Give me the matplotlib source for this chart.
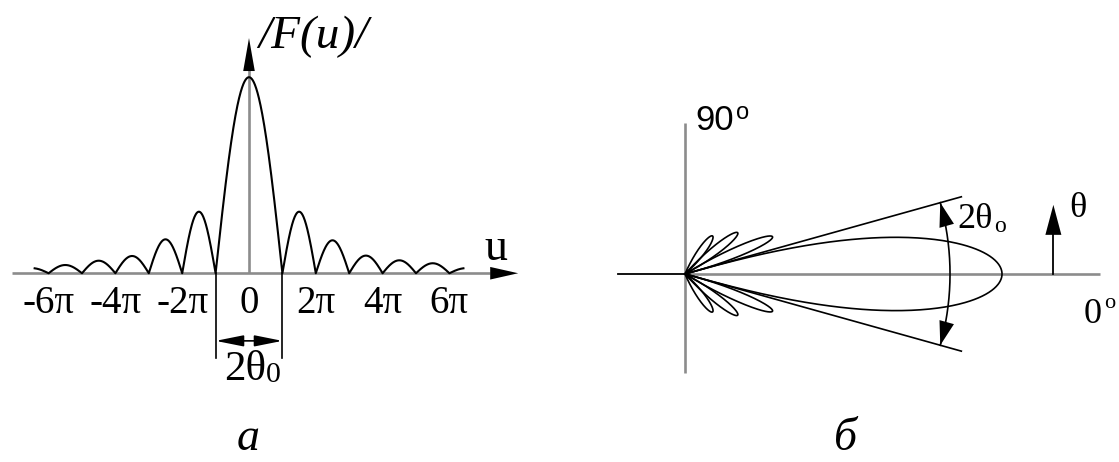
import numpy as np
import matplotlib
matplotlib.use("Agg")
import matplotlib.pyplot as plt

# ---------------- panel (a): |F(u)| ----------------
# zeros of |F(u)| are at multiples of pi; u is measured in units of pi
main_peak = 1.0
side_peaks_right = [0.314, 0.168, 0.090, 0.066, 0.051]
side_peaks_left = [0.314, 0.173, 0.088, 0.064, 0.042]
tail_peak = 0.026          # partial lobe beyond +-6pi
tail_end = 6.42            # where the drawn curve stops (units of pi)
tick_positions = [-6, -4, -2, 0, 2, 4, 6]
tick_labels = ["-6π", "-4π", "-2π", "0", "2π", "4π", "6π"]

# ---------------- panel (б): polar pattern ----------------
main_lobe_length = 1.0
main_lobe_null_deg = 15.6          # half-width of main beam, theta_0
side_lobe_angles_deg = [23.0, 38.0, 54.0]
side_lobe_lengths = [0.300, 0.211, 0.148]
side_lobe_halfwidths_deg = [8.2, 10.0, 12.5]
beam_line_length = 0.905
arc_radius = 0.836

AX_GRAY = "#8c8c8c"
SERIF = "Liberation Serif"
SANS = "Liberation Sans"

fig = plt.figure(figsize=(11.19, 4.62), dpi=100)
fig.patch.set_facecolor("white")

# ---------- left panel ----------
ax1 = fig.add_axes([0, 0, 520 / 1119, 1])
ax1.set_xlim(-7.455, 8.114)
ax1.set_ylim(-0.963, 1.394)
ax1.axis("off")
px_x = 520 / (8.114 + 7.455)      # pixels per unit u
px_y = 462 / (1.394 + 0.963)      # pixels per unit F


def arch(a, b, h, stop=None, n=80):
    u = np.linspace(a, b if stop is None else stop, n)
    return u, h * np.abs(np.sin(np.pi * (u - a) / (b - a)))


segs_u, segs_f = [], []
# left tail and side lobes (outermost first)
u, f = arch(-7, -6, tail_peak)
mask = u >= -tail_end
segs_u.append(u[mask]); segs_f.append(f[mask])
for k, h in reversed(list(enumerate(side_peaks_left, start=1))):
    u, f = arch(-(k + 1), -k, h)
    segs_u.append(u); segs_f.append(f)
u, f = arch(-1, 1, main_peak, n=200)
segs_u.append(u); segs_f.append(f)
for k, h in enumerate(side_peaks_right, start=1):
    u, f = arch(k, k + 1, h)
    segs_u.append(u); segs_f.append(f)
u, f = arch(6, 7, tail_peak, stop=tail_end)
segs_u.append(u); segs_f.append(f)
U = np.concatenate(segs_u)
F = np.concatenate(segs_f)

# axes
ax1.plot([-7.105, 7.22], [0, 0], color=AX_GRAY, lw=1.9, zorder=1, solid_capstyle="butt")
ax1.plot([0, 0], [0, 1.04], color=AX_GRAY, lw=1.9, zorder=1, solid_capstyle="butt")
# u arrowhead
hl, hw = 28 / px_x, 6.3 / px_y
tip = 8.06
ax1.fill([tip, tip - hl, tip - hl], [0, hw, -hw], color="k", zorder=3, lw=0)
# |F| arrowhead
hl, hw = 33 / px_y, 5.8 / px_x
tipy = 1.20
ax1.fill([0, -hw, hw], [tipy, tipy - hl, tipy - hl], color="k", zorder=3, lw=0)

ax1.plot(U, F, color="k", lw=1.5, zorder=2)

# tick labels
for pos, lab in zip(tick_positions, tick_labels):
    ax1.text(pos, -0.2026, lab, ha="center", va="baseline", fontsize=28,
             family=SERIF)

# beam-width dimension
ydim = -0.345
for z in (-1, 1):
    ax1.plot([z, z], [0, -0.434], color="k", lw=1.2, zorder=2)
ax1.annotate("", xy=(1, ydim), xytext=(-1, ydim),
             arrowprops=dict(arrowstyle="<|-|>,head_length=0.85,head_width=0.17",
                             mutation_scale=20, color="k", lw=1.2,
                             shrinkA=0, shrinkB=0))
ax1.text(0.51, -0.544, "2θ", ha="right", va="baseline", fontsize=31, family=SERIF)
ax1.text(0.52, -0.553, "0", ha="left", va="baseline", fontsize=21.5, family=SERIF)

ax1.text(0.27, 1.149, "/F(u)/", ha="left", va="baseline", fontsize=34,
         family=SERIF, style="italic")
ax1.text(7.4, -(260 - 273.3) / px_y, "u", ha="center", va="baseline",
         fontsize=33, family=SERIF)
ax1.text(-0.03, -0.901, "а", ha="center", va="baseline", fontsize=33,
         family=SERIF, style="italic")

# ---------- right panel ----------
ax2 = fig.add_axes([580 / 1119, 0, 539 / 1119, 1])
ax2.set_xlim(-0.3312, 1.3690)
ax2.set_ylim(-0.593, 0.864)
ax2.axis("off")
px = 317.0

ax2.plot([-0.211, 0], [0, 0], color="k", lw=1.3, zorder=1)
ax2.plot([0, 1.309], [0, 0], color=AX_GRAY, lw=1.9, zorder=1, solid_capstyle="butt")
ax2.plot([0, 0], [-0.312, 0.476], color=AX_GRAY, lw=1.9, zorder=1, solid_capstyle="butt")

# main lobe
tz = np.radians(main_lobe_null_deg)
phi = np.linspace(-tz, tz, 400)
r = main_lobe_length * np.cos(np.pi * phi / (2 * tz)).clip(0) ** 0.65
ax2.plot(r * np.cos(phi), r * np.sin(phi), color="k", lw=1.2, zorder=2)

# side lobes (mirrored about the axis)
for ang, L, hwid in zip(side_lobe_angles_deg, side_lobe_lengths, side_lobe_halfwidths_deg):
    a, d = np.radians(ang), np.radians(hwid)
    psi = np.linspace(-d, d, 200)
    rr = L * np.cos(np.pi * psi / (2 * d))
    for sgn in (1, -1):
        th = sgn * (a + psi)
        ax2.plot(rr * np.cos(th), rr * np.sin(th), color="k", lw=1.2, zorder=2)

# beam-edge lines
for sgn in (1, -1):
    t = sgn * tz
    ax2.plot([0, beam_line_length * np.cos(t)], [0, beam_line_length * np.sin(t)],
             color="k", lw=1.2, zorder=2)

# 2theta_0 arc with arrowheads
t = np.linspace(-tz, tz, 200)
ax2.plot(arc_radius * np.cos(t), arc_radius * np.sin(t), color="k", lw=1.2, zorder=2)
hl, hw = 24 / px, 7.5 / px
for sgn in (1, -1):
    te = sgn * tz
    P = np.array([arc_radius * np.cos(te), arc_radius * np.sin(te)])
    tang = sgn * np.array([-np.sin(te), np.cos(te)])
    nrm = np.array([np.cos(te), np.sin(te)])
    B = P - hl * tang
    pts = np.array([P, B + hw * nrm, B - hw * nrm])
    ax2.fill(pts[:, 0], pts[:, 1], color="k", zorder=3, lw=0)

# theta direction arrow
xa = 1.162
ax2.plot([xa, xa], [0, 0.15], color="k", lw=1.3, zorder=2)
hl, hw = 30 / px, 8 / px
ax2.fill([xa, xa - hw, xa + hw], [0.218, 0.218 - hl, 0.218 - hl], color="k", zorder=3, lw=0)

ax2.text(0.0315, 0.455, "90", ha="left", va="baseline", fontsize=25, family=SANS)
ax2.text(0.160, 0.49, "o", ha="left", va="baseline", fontsize=17, family=SANS)
ax2.text(0.972, 0.145, "2θ", ha="right", va="baseline", fontsize=26, family=SERIF)
ax2.text(0.974, 0.1325, "o", ha="left", va="baseline", fontsize=17, family=SERIF)
ax2.text(1.238, 0.181, "θ", ha="center", va="baseline", fontsize=26, family=SERIF)
ax2.text(1.256, -0.155, "0", ha="left", va="baseline", fontsize=26, family=SERIF)
ax2.text(1.322, -0.107, "o", ha="left", va="baseline", fontsize=16, family=SERIF)
ax2.text(0.505, -0.555, "б", ha="center", va="baseline", fontsize=33,
         family=SERIF, style="italic")

fig.savefig("out.png", dpi=100, facecolor="white")
